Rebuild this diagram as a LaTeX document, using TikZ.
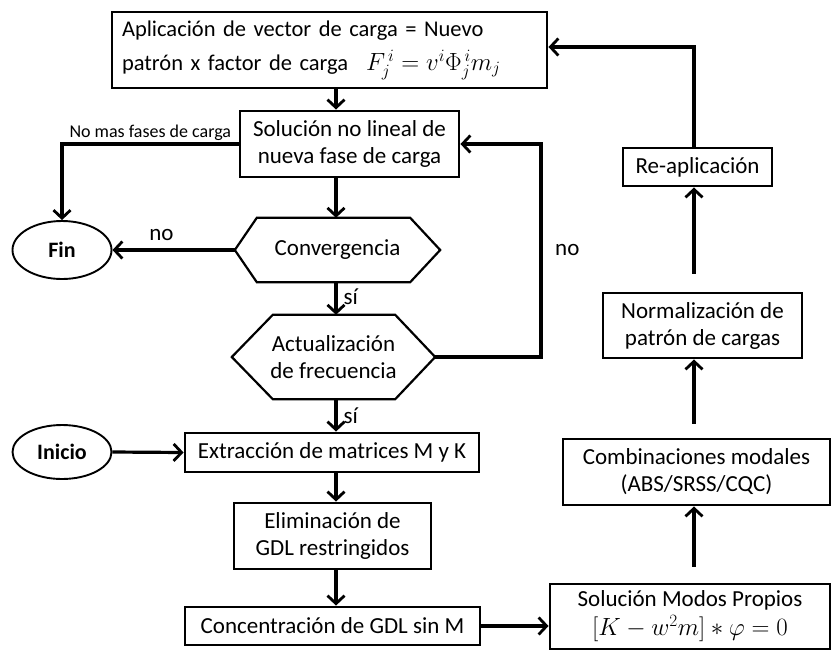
\documentclass[tikz,border=0pt]{standalone}
\usepackage{fontspec}
\setmainfont{Carlito}
\usetikzlibrary{arrows.meta,calc,shapes.geometric}

\begin{document}
\begin{tikzpicture}[x=1pt,y=-1pt,
  txt/.style={font=\fontsize{23}{27}\selectfont},
  box/.style={txt,draw,line width=2.9pt,rectangle,align=center,inner sep=0pt},
  oval/.style={draw,line width=1.9pt,ellipse,inner sep=0pt,minimum width=99pt,
    font=\fontsize{22}{26}\selectfont\bfseries},
  hexnode/.style={txt,align=center,inner sep=0pt},
  hexa/.style={draw,line width=2.2pt,line join=miter},
  link/.style={line width=3.2pt},
  arr/.style={link,-{Straight Barb[length=8pt,width=17pt,line width=2.8pt]}},
  lbl/.style={txt,inner sep=0pt}]
\useasboundingbox (0,0) rectangle (832,651);

% left column
\node[box,align=left,text width=415pt,inner xsep=10pt,minimum height=76pt,
  font=\fontsize{22.5}{27}\selectfont] (apl) at (329.5,50)
  {Aplicación de vector de carga = Nuevo\\[7pt]
   patrón x factor de carga\hspace{18pt}{\fontsize{26}{26}\selectfont$F_j^{\,i} = v^i\Phi_j^{\,i} m_j$}};
\node[box,minimum width=219pt,minimum height=66pt] (sol) at (349.5,144)
  {Solución no lineal de\\nueva fase de carga};

\node[hexnode,minimum width=205pt,minimum height=64pt] (conv) at (337.5,250) {Convergencia};
\draw[hexa] (conv.west) -- ($(conv.north west)+(22,0)$) -- ($(conv.north east)+(-30,0)$)
  -- (conv.east) -- ($(conv.south east)+(-30,0)$) -- ($(conv.south west)+(22,0)$) -- cycle;

\node[hexnode,minimum width=203pt,minimum height=84pt] (act) at (333.5,357)
  {Actualización\\de frecuencia};
\draw[hexa] (act.west) -- ($(act.north west)+(41,0)$) -- ($(act.north east)+(-40,0)$)
  -- (act.east) -- ($(act.south east)+(-40,0)$) -- ($(act.south west)+(41,0)$) -- cycle;

\node[box,minimum width=294pt,minimum height=39pt] (ext) at (332,452.5)
  {Extracción de matrices M y K};
\node[box,minimum width=197pt,minimum height=66pt] (eli) at (332.5,536)
  {Eliminación de\\GDL restringidos};
\node[box,minimum width=295pt,minimum height=38pt] (con) at (332.5,626)
  {Concentración de GDL sin M};

\node[oval,minimum height=58pt] (fin) at (62,250) {Fin};
\node[oval,minimum height=54pt] (ini) at (62,452) {Inicio};

% right column
\node[box,minimum width=280pt,minimum height=65pt] (smp) at (690,616.5)
  {Solución Modos Propios\\[2pt]$[K - w^2 m] * \varphi = 0$};
\node[box,minimum width=267pt,minimum height=66pt] (cmb) at (696.5,472)
  {Combinaciones modales\\(ABS/SRSS/CQC)};
\node[box,minimum width=199pt,minimum height=65pt] (nor) at (702.5,325.5)
  {Normalización de\\patrón de cargas};
\node[box,minimum width=149pt,minimum height=38pt] (rea) at (697.5,167)
  {Re-aplicación};

% guide coordinates
\coordinate (ax) at (336,0);
\coordinate (rx) at (694,0);
\coordinate (lp) at (541,250);

% main flow
\draw[arr] (apl.south -| ax) -- (sol.north -| ax);
\draw[arr] (sol.south -| ax) -- (conv.north -| ax);
\draw[arr] (conv.south -| ax) -- (act.north -| ax) node[lbl,pos=0.45,right=6pt] {sí};
\draw[arr] (act.south -| ax) -- (ext.north -| ax) node[lbl,pos=0.5,right=6pt] {sí};
\draw[arr] (ini.east) -- (ext.west);
\draw[arr] (ext.south -| ax) -- (eli.north -| ax);
\draw[arr] (eli.south -| ax) -- (con.north -| ax);
\draw[arr] (con.east) -- (smp.west |- con.east);

% exits to Fin
\draw[arr] (conv.west) -- (fin.east) node[lbl,pos=0.6,above=8pt] {no};
\draw[arr] (sol.west) -| (fin.north)
  node[pos=0.25,above=2pt,inner sep=0pt,font=\fontsize{18}{20}\selectfont] {No mas fases de carga};

% iteration loop
\draw[arr] (act.east) -| (lp) |- (sol.east);
\node[lbl,right=14pt] at (lp) {no};

% modal branch
\draw[arr,shorten <=16pt] (smp.north -| rx) -- (cmb.south -| rx);
\draw[arr,shorten <=14pt] (cmb.north -| rx) -- (nor.south -| rx);
\draw[arr,shorten <=18pt] (nor.north -| rx) -- (rea.south -| rx);
\draw[arr] (rea.north -| rx) |- ([yshift=3pt]apl.east);
\end{tikzpicture}
\end{document}
